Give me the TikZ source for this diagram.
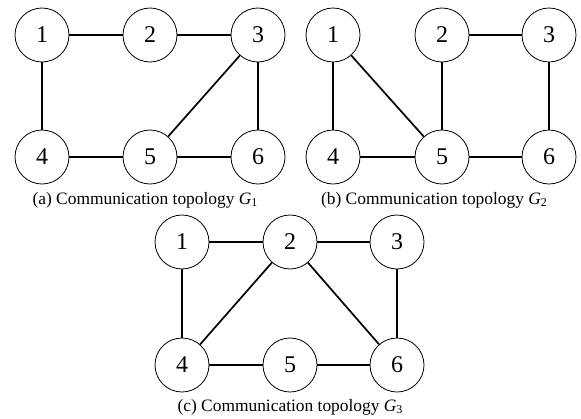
\documentclass[tikz,border=0pt]{standalone}
\usepackage{fontspec}
\setmainfont{Liberation Serif}
\tikzset{
  vtx/.style={circle, draw, line width=0.8pt, minimum size=54pt, inner sep=0pt,
              font=\fontsize{24}{24}\selectfont},
  edge/.style={line width=1.7pt},
  caption/.style={anchor=base, inner sep=0pt, font=\fontsize{17.4}{18}\selectfont}
}
\newcommand{\gsub}[1]{{\itshape G}\raisebox{-0.35ex}{\fontsize{12}{12}\selectfont #1}}
\begin{document}
\begin{tikzpicture}[x=1pt, y=-1pt]
  \useasboundingbox (0,0) rectangle (581,418);

  % topology G1
  \node[vtx] (a1) at (42,35) {1};
  \node[vtx] (a2) at (150,35) {2};
  \node[vtx] (a3) at (258,35) {3};
  \node[vtx] (a4) at (42,157) {4};
  \node[vtx] (a5) at (150,157) {5};
  \node[vtx] (a6) at (258,157) {6};
  \draw[edge] (a1) -- (a2);
  \draw[edge] (a2) -- (a3);
  \draw[edge] (a1) -- (a4);
  \draw[edge] (a3) -- (a5);
  \draw[edge] (a3) -- (a6);
  \draw[edge] (a4) -- (a5);
  \draw[edge] (a5) -- (a6);
  \node[caption] (capa) at (145,204) {(a) Communication topology \gsub{1}};

  % topology G2
  \node[vtx] (b1) at (333,35) {1};
  \node[vtx] (b2) at (442,35) {2};
  \node[vtx] (b3) at (549,35) {3};
  \node[vtx] (b4) at (333,157) {4};
  \node[vtx] (b5) at (442,157) {5};
  \node[vtx] (b6) at (549,157) {6};
  \draw[edge] (b1) -- (b4);
  \draw[edge] (b1) -- (b5);
  \draw[edge] (b2) -- (b5);
  \draw[edge] (b2) -- (b3);
  \draw[edge] (b3) -- (b6);
  \draw[edge] (b4) -- (b5);
  \draw[edge] (b5) -- (b6);
  \node[caption] (capb) at (434,204) {(b) Communication topology \gsub{2}};

  % topology G3
  \node[vtx] (c1) at (182,242) {1};
  \node[vtx] (c2) at (290,242) {2};
  \node[vtx] (c3) at (397,242) {3};
  \node[vtx] (c4) at (182,365) {4};
  \node[vtx] (c5) at (290,365) {5};
  \node[vtx] (c6) at (397,365) {6};
  \draw[edge] (c1) -- (c2);
  \draw[edge] (c2) -- (c3);
  \draw[edge] (c1) -- (c4);
  \draw[edge] (c2) -- (c4);
  \draw[edge] (c2) -- (c6);
  \draw[edge] (c3) -- (c6);
  \draw[edge] (c4) -- (c5);
  \draw[edge] (c5) -- (c6);
  \node[caption] (capc) at (290,411) {(c) Communication topology \gsub{3}};
\end{tikzpicture}
\end{document}
